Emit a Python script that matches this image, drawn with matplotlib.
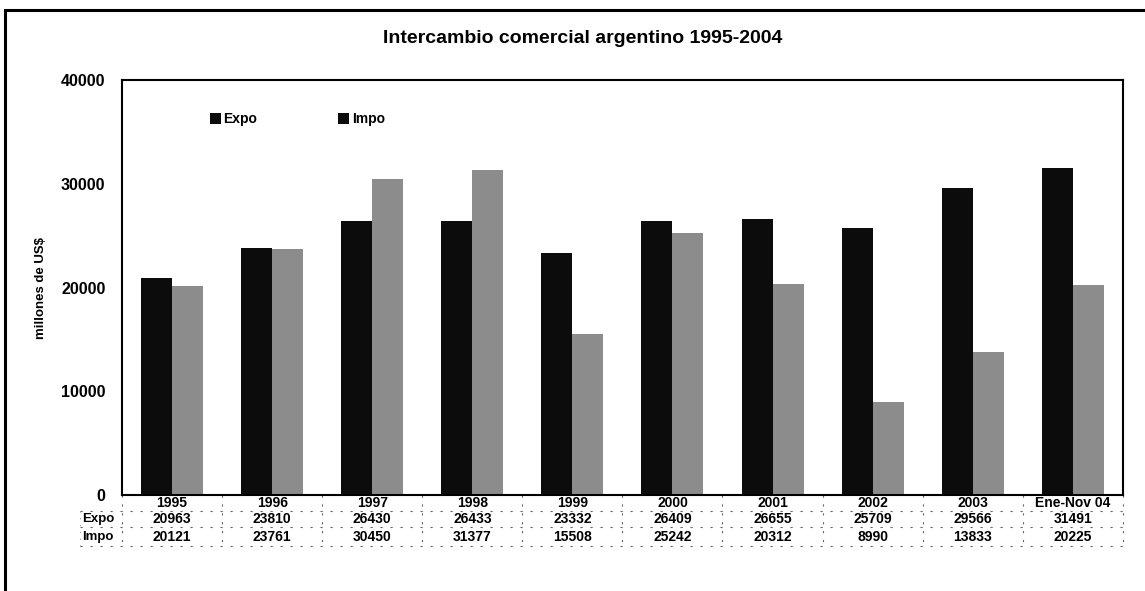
import matplotlib.pyplot as plt
import numpy as np
from matplotlib.patches import Rectangle

years = ["1995", "1996", "1997", "1998", "1999", "2000", "2001", "2002", "2003", "Ene-Nov 04"]
expo = [20963, 23810, 26430, 26433, 23332, 26409, 26655, 25709, 29566, 31491]
impo = [20121, 23761, 30450, 31377, 15508, 25242, 20312, 8990, 13833, 20225]

plt.rcParams['font.family'] = ['Liberation Sans', 'DejaVu Sans']
plt.rcParams['font.weight'] = 'bold'
plt.rcParams['axes.labelweight'] = 'bold'

fig = plt.figure(figsize=(11.45, 5.91), dpi=100)
ax = fig.add_axes([0.1066, 0.1624, 0.874, 0.702])

x = np.arange(len(years))
w = 0.31
ax.bar(x - w / 2, expo, width=w, color='#0c0c0c', label='Expo')
ax.bar(x + w / 2, impo, width=w, color='#8c8c8c', label='Impo')

ax.set_xlim(-0.5, len(years) - 0.5)
ax.set_ylim(0, 40000)
ax.set_yticks([0, 10000, 20000, 30000, 40000])
ax.set_xticks([])
ax.tick_params(axis='y', length=0, pad=12, labelsize=11.5)
for s in ax.spines.values():
    s.set_linewidth(1.5)
    s.set_color('black')
ax.set_ylabel('millones de US$', fontsize=9.5, labelpad=10)

leg = ax.legend(loc=(0.082, 0.875), ncol=2, frameon=False, handlelength=0.8,
                handleheight=0.8, handletextpad=0.2, columnspacing=5.8,
                prop={'size': 10, 'weight': 'bold'})
for h in leg.legend_handles:
    h.set_facecolor('#0c0c0c')

fig.text(0.509, 0.935, 'Intercambio comercial argentino 1995-2004',
         ha='center', va='center', fontsize=14, fontweight='bold')

# data table under the axis
tr = ax.get_xaxis_transform()
row_y = [-0.019, -0.058, -0.101]
lines_y = [0.0, -0.039, -0.077, -0.123]
for i, yr in enumerate(years):
    ax.text(i, row_y[0], yr, transform=tr, ha='center', va='center', fontsize=10)
    ax.text(i, row_y[1], str(expo[i]), transform=tr, ha='center', va='center', fontsize=10)
    ax.text(i, row_y[2], str(impo[i]), transform=tr, ha='center', va='center', fontsize=10)
for lbl, yy in zip(['Expo', 'Impo'], row_y[1:]):
    ax.text(-0.9, yy, lbl, transform=tr, ha='left', va='center', fontsize=9.5)

for yy in lines_y[1:]:
    ax.plot([-0.92, len(years) - 0.5], [yy, yy], transform=tr, clip_on=False,
            color='#666666', lw=0.8, ls=(0, (2, 7)))
for b in np.arange(-0.5, len(years)):
    ax.plot([b, b], [0, lines_y[-1]], transform=tr, clip_on=False,
            color='#666666', lw=0.8, ls=(0, (2, 6)))
ax.plot([-0.92, -0.92], [lines_y[1], lines_y[-1]], transform=tr, clip_on=False,
        color='#888888', lw=0.7, ls=(0, (1, 6)))

# outer frame of the figure
fig.patches.append(Rectangle((0.0044, -0.1), 1.2, 1.083, transform=fig.transFigure,
                             fill=False, lw=2.2, ec='black'))

fig.savefig('out.png', dpi=100)
